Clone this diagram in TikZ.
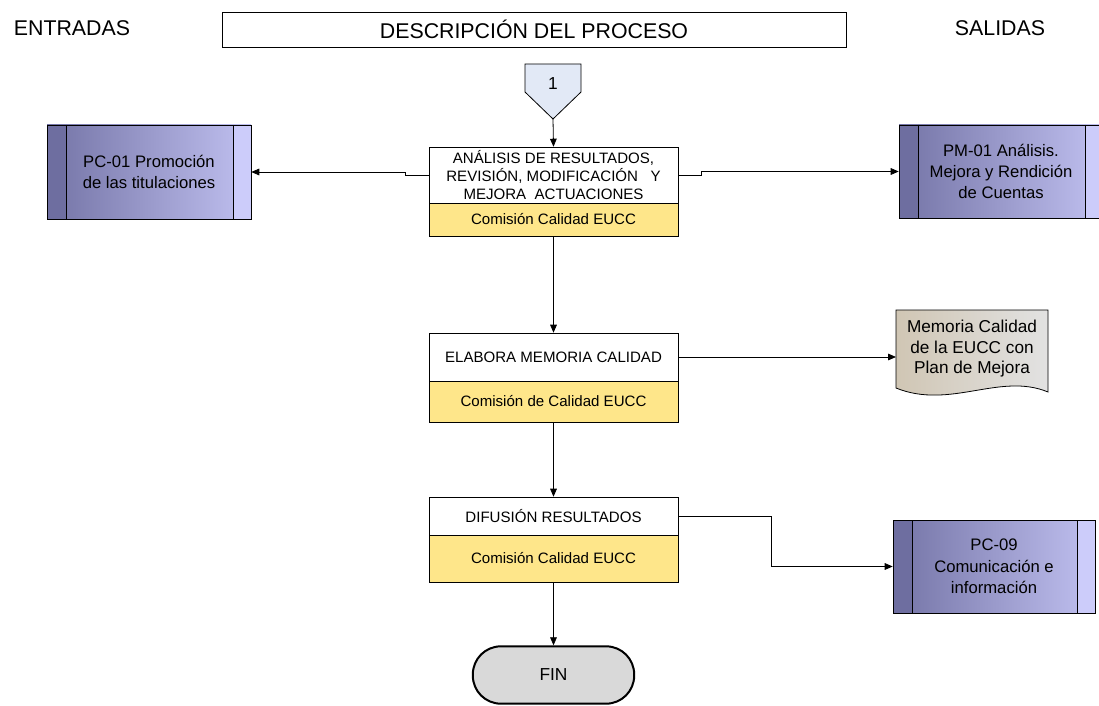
\documentclass[tikz,border=0pt]{standalone}
\usepackage{fontspec}
\setmainfont{Liberation Sans}
\usetikzlibrary{arrows.meta}
\definecolor{actyellow}{RGB}{254,230,138}
\definecolor{conblue}{RGB}{226,233,246}
\definecolor{procdark}{RGB}{110,110,160}
\definecolor{procleft}{RGB}{116,116,166}
\definecolor{procright}{RGB}{192,192,240}
\definecolor{proclight}{RGB}{204,204,250}
\definecolor{docleft}{RGB}{208,198,180}
\definecolor{docright}{RGB}{226,226,226}
\definecolor{fingray}{RGB}{217,217,217}
\begin{document}
\begin{tikzpicture}[x=0.75pt,y=-0.75pt,>={Triangle[length=6pt,width=5pt]}]
	\tikzstyle{every node}=[inner sep=2pt]
	\tikzstyle{head}=[font=\fontsize{16}{19}\selectfont]
	\tikzstyle{actbox}=[draw,fill=white,minimum width=186.75pt,align=center,
	font=\fontsize{11.3}{13.5}\selectfont]
	\tikzstyle{resbox}=[actbox,fill=actyellow]
	\tikzstyle{subproc}=[draw,left color=procleft,right color=procright,align=center,
	minimum width=152.5pt,minimum height=70pt,font=\fontsize{12.5}{16}\selectfont,
	path picture={
		\fill[procdark] (path picture bounding box.north west) rectangle ([xshift=14.5pt]path picture bounding box.south west);
		\fill[proclight] (path picture bounding box.north east) rectangle ([xshift=-13.5pt]path picture bounding box.south east);
		\draw ([xshift=14.5pt]path picture bounding box.north west) -- ([xshift=14.5pt]path picture bounding box.south west);
		\draw ([xshift=-13.5pt]path picture bounding box.north east) -- ([xshift=-13.5pt]path picture bounding box.south east);
	}]
	\tikzstyle{flow}=[draw,->,line width=0.6pt]
	\useasboundingbox (0,0) rectangle (1099,706);
	\node[head] (ent) at (72,28) {ENTRADAS};
	\node[head] (sal) at (1000,28) {SALIDAS};
	\node[head,draw,minimum width=468pt,minimum height=26.25pt] (desc) at (534,29.5) {DESCRIPCIÓN DEL PROCESO};
	\draw[fill=conblue,line width=0.6pt] (525,64) -- (581,64) -- (581,92) -- (553,119) -- (525,92) -- cycle;
	\node[font=\fontsize{13}{15}\selectfont] (c1) at (553,84) {1};
	\coordinate (c1tip) at (553,119);
	\node[actbox,minimum height=42pt] (anal) at (553.5,175) {ANÁLISIS DE RESULTADOS,\\REVISIÓN, MODIFICACIÓN\ \ \ Y\\MEJORA\ \ ACTUACIONES};
	\node[resbox,minimum height=24.75pt] (analr) at (553.5,219.5) {Comisión Calidad EUCC};
	\node[actbox,minimum height=36pt] (elab) at (553.5,357) {ELABORA MEMORIA CALIDAD};
	\node[resbox,minimum height=30.75pt] (elabr) at (553.5,401.5) {Comisión de Calidad EUCC};
	\node[actbox,minimum height=28.5pt] (dif) at (553.5,516) {DIFUSIÓN RESULTADOS};
	\node[resbox,minimum height=35.25pt] (difr) at (553.5,558.5) {Comisión Calidad EUCC};
	\node[subproc,minimum width=153pt,minimum height=70.5pt] (pc01) at (149,172) {PC-01 Promoción\\de las titulaciones};
	\node[subproc,minimum width=153pt,minimum height=69.75pt] (pm01) at (1001,171.5) {PM-01 Análisis.\\Mejora y Rendición\\de Cuentas};
	\node[subproc,minimum width=151.5pt,minimum height=69.75pt] (pc09) at (994,566.5) {PC-09\\Comunicación e\\información};
	\shade[left color=docleft,right color=docright,draw,line width=0.6pt] (896,310) -- (1048,310) -- (1048,392)
		.. controls (1000,372) and (950,410) .. (896,388) -- cycle;
	\node[align=center,font=\fontsize{12.9}{15.4}\selectfont] (mem) at (972,349) {Memoria Calidad\\de la EUCC con\\Plan de Mejora};
	\coordinate (memin) at (896,357);
	\node[draw,line width=1.5pt,fill=fingray,rounded corners=21pt,minimum width=121pt,minimum height=43pt,
	font=\fontsize{13}{15}\selectfont] (fin) at (553.5,675) {FIN};
	\path[flow] (c1tip) -- (anal.north);
	\path[flow] (anal.west) -- ++(-23,0) |- (pc01.east);
	\path[flow] (anal.east) -- ++(23,0) |- (pm01.west);
	\path[flow] (analr.south) -- (elab.north);
	\path[flow] (elab.east) -- (memin);
	\path[flow] (elabr.south) -- (dif.north);
	\path[flow] (dif.east) -- ++(93,0) |- (pc09.west);
	\path[flow] (difr.south) -- (fin.north);
\end{tikzpicture}
\end{document}
